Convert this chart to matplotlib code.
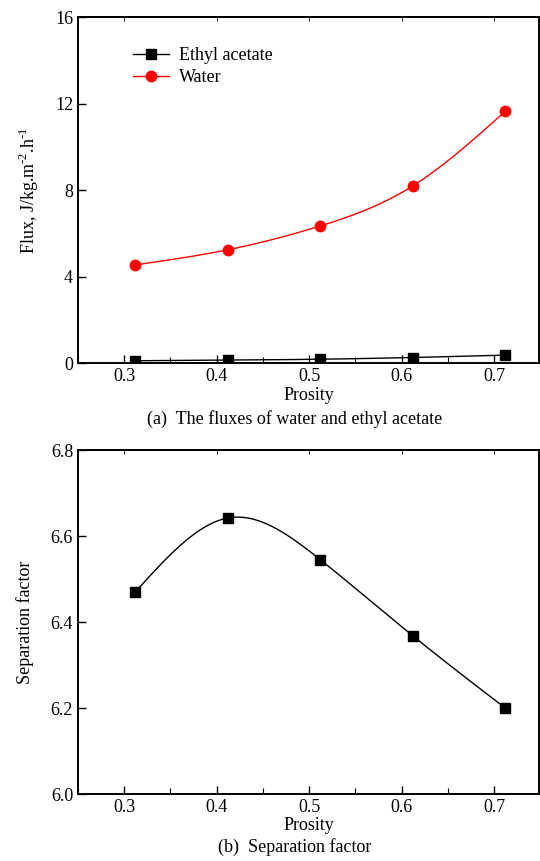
import numpy as np
import matplotlib.pyplot as plt
from matplotlib.ticker import MultipleLocator

plt.rcParams['font.family'] = ['Liberation Serif', 'DejaVu Serif']
plt.rcParams['mathtext.fontset'] = 'custom'
plt.rcParams['mathtext.rm'] = 'Liberation Serif'

# Data.
porosity = [0.312, 0.412, 0.512, 0.612, 0.712]
ethyl_flux = [0.12, 0.15, 0.19, 0.27, 0.38]
water_flux = [4.55, 5.25, 6.35, 8.2, 11.65]
sep_factor = [6.47, 6.642, 6.545, 6.368, 6.20]


def spline(x, y, n=200):
    """Natural cubic spline through the points, for the smooth connecting line."""
    x = np.asarray(x, float)
    y = np.asarray(y, float)
    m = len(x)
    h = np.diff(x)
    a = np.zeros((m, m))
    b = np.zeros(m)
    a[0, 0] = a[-1, -1] = 1
    for i in range(1, m - 1):
        a[i, i - 1] = h[i - 1]
        a[i, i] = 2 * (h[i - 1] + h[i])
        a[i, i + 1] = h[i]
        b[i] = 3 * ((y[i + 1] - y[i]) / h[i] - (y[i] - y[i - 1]) / h[i - 1])
    c = np.linalg.solve(a, b)
    xs = np.linspace(x[0], x[-1], n)
    idx = np.clip(np.searchsorted(x, xs) - 1, 0, m - 2)
    dx = xs - x[idx]
    hi = h[idx]
    bi = (y[idx + 1] - y[idx]) / hi - hi * (2 * c[idx] + c[idx + 1]) / 3
    di = (c[idx + 1] - c[idx]) / (3 * hi)
    ys = y[idx] + bi * dx + c[idx] * dx ** 2 + di * dx ** 3
    return xs, ys


def style_axes(ax):
    ax.set_xlim(0.25, 0.749)
    ax.xaxis.set_major_locator(MultipleLocator(0.1))
    ax.xaxis.set_minor_locator(MultipleLocator(0.05))
    ax.tick_params(which='both', direction='in', labelsize=13)
    ax.tick_params(which='major', length=6, width=1)
    ax.tick_params(which='minor', length=4, width=0.8)
    ax.yaxis.set_tick_params(which='minor', length=0)
    # small ticks on the top spine at the major positions
    top = ax.secondary_xaxis('top')
    top.set_xticks(ax.get_xticks())
    top.tick_params(direction='in', length=3, width=0.6, labeltop=False)
    top.xaxis.set_minor_locator(plt.NullLocator())
    for s in ax.spines.values():
        s.set_linewidth(1.4)
    top.spines['top'].set_linewidth(1.4)
    ax.set_xlabel('Prosity', fontsize=13, labelpad=1)


fig = plt.figure(figsize=(5.4, 8.61), dpi=100)

# (a) fluxes
ax1 = fig.add_axes([0.1444, 0.578, 0.8546, 0.402])
xs, ys = spline(porosity, ethyl_flux)
ax1.plot(xs, ys, color='black', linewidth=1)
ax1.plot(porosity, ethyl_flux, 's', color='black', markersize=6.5)
xs, ys = spline(porosity, water_flux)
ax1.plot(xs, ys, color='red', linewidth=1)
ax1.plot(porosity, water_flux, 'o', color='red', markersize=7.5)
ax1.plot([], [], 's-', color='black', markersize=6.5, linewidth=1, label='Ethyl acetate')
ax1.plot([], [], 'o-', color='red', markersize=7.5, linewidth=1, label='Water')
ax1.set_ylim(0, 16)
ax1.yaxis.set_major_locator(MultipleLocator(4))
style_axes(ax1)
ax1.set_ylabel('Flux, J/kg.m$^{\\mathrm{\u2010}2}$.h$^{\\mathrm{\u2010}1}$', fontsize=13, labelpad=10)
ax1.legend(loc='upper left', bbox_to_anchor=(0.104, 0.935), frameon=False, fontsize=13,
           handlelength=2.0, handletextpad=0.55, labelspacing=0.3, borderaxespad=0)
fig.text(0.545, 1 - 419 / 861, '(a)  The fluxes of water and ethyl acetate',
         ha='center', va='center', fontsize=13)

# (b) separation factor
ax2 = fig.add_axes([0.1444, 0.0778, 0.8546, 0.3995])
xs, ys = spline(porosity, sep_factor)
ax2.plot(xs, ys, color='black', linewidth=1)
ax2.plot(porosity, sep_factor, 's', color='black', markersize=6.5)
ax2.set_ylim(6.0, 6.8)
ax2.yaxis.set_major_locator(MultipleLocator(0.2))
ax2.yaxis.set_major_formatter(plt.FormatStrFormatter('%.1f'))
style_axes(ax2)
ax2.set_ylabel('Separation factor', fontsize=13, labelpad=12)
fig.text(0.545, 1 - 847 / 861, '(b)  Separation factor', ha='center', va='center', fontsize=13)

fig.savefig('out.png', dpi=100)
